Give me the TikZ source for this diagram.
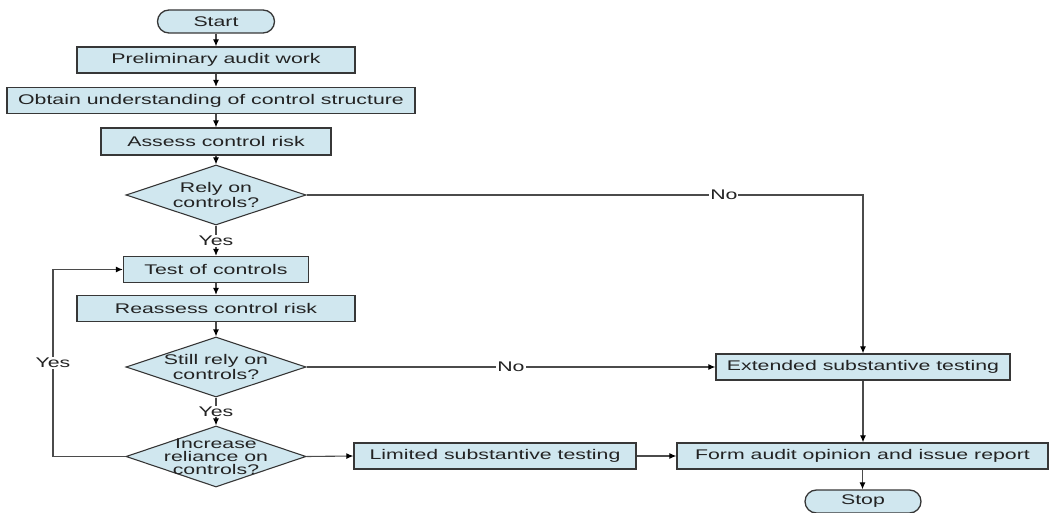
\documentclass[tikz,border=0pt]{standalone}
\usepackage{fontspec}
\setmainfont{Liberation Sans}[FakeStretch=1.52]
\usetikzlibrary{shapes.geometric,arrows.meta}
\definecolor{boxfill}{RGB}{208,231,239}
\definecolor{edgecol}{RGB}{55,55,55}
\definecolor{conncol}{RGB}{75,75,75}
\definecolor{txtcol}{RGB}{35,35,35}
\begin{document}
\begin{tikzpicture}[x=1pt,y=-1pt,
  every node/.style={font=\fontsize{14}{15}\selectfont, inner sep=0pt, text=txtcol},
  proc/.style={draw=edgecol, line width=1.3pt, fill=boxfill, rectangle, minimum height=26pt},
  term/.style={draw=edgecol, line width=1.3pt, fill=boxfill, rounded corners=11.5pt, minimum height=23pt, minimum width=117pt},
  decide/.style={draw=edgecol, line width=1.1pt, fill=boxfill, diamond, minimum width=180pt, minimum height=60pt},
  conn/.style={draw=conncol, line width=1.1pt, -{Latex[length=7pt,width=6pt,color=black]}},
  lab/.style={fill=white, inner sep=1pt}]
\useasboundingbox (0,0) rectangle (1055,513);

\node[term] (start) at (216,21.5) {Start};
\node[proc, minimum width=278pt] (pre) at (216,60) {Preliminary audit work};
\node[proc, minimum width=408pt] (obt) at (211,100.5) {Obtain understanding of control structure};
\node[proc, minimum width=230pt, minimum height=27pt] (ass) at (216,141.5) {Assess control risk};
\node[decide] (rely) at (216,195) {};
\node[align=center] (relyt) at (rely) {Rely on\\controls?};
\node[proc, minimum width=185pt] (test) at (216,269.5) {Test of controls};
\node[proc, minimum width=278pt] (reas) at (216,308.5) {Reassess control risk};
\node[decide] (still) at (216,367) {};
\node[align=center] (stillt) at (still) {Still rely on\\controls?};
\node[decide, minimum height=61pt] (inc) at (216,456.5) {};
\node[align=center, font=\fontsize{14}{13}\selectfont] (inct) at (inc) {Increase\\reliance on\\controls?};
\node[proc, minimum width=282pt] (lim) at (495,456) {Limited substantive testing};
\node[proc, minimum width=371pt] (form) at (862.5,456) {Form audit opinion and issue report};
\node[proc, minimum width=294pt] (ext) at (863,367) {Extended substantive testing};
\node[term, minimum width=116pt] (stop) at (863,501.5) {Stop};

\coordinate (loopb) at (53,456.5);
\coordinate (loopt) at (53,269.5);

\draw[conn] (start) -- (pre);
\draw[conn] (pre.south) -- (pre.south |- obt.north);
\draw[conn] (ass.north |- obt.south) -- (ass.north);
\draw[conn] (ass.south) -- (rely.north);
\draw[conn] (rely.south) -- node[lab]{Yes} (test.north);
\draw[conn] (test) -- (reas);
\draw[conn] (reas) -- (still);
\draw[conn] (still.south) -- node[lab]{Yes} (inc.north);
\draw[conn] (rely.east) -- node[lab, pos=0.75]{No} (ext.north |- rely.east) -- (ext.north);
\draw[conn] (still.east) -- node[lab]{No} (ext.west);
\draw[conn] (inc.east) -- (lim.west);
\draw[conn] (lim) -- (form);
\draw[conn] (ext.south) -- (ext.south |- form.north);
\draw[conn] (form.south) -- (form.south |- stop.north);
\draw[conn] (inc.west) -- (loopb) -- node[lab]{Yes} (loopt) -- (test.west);
\end{tikzpicture}
\end{document}
